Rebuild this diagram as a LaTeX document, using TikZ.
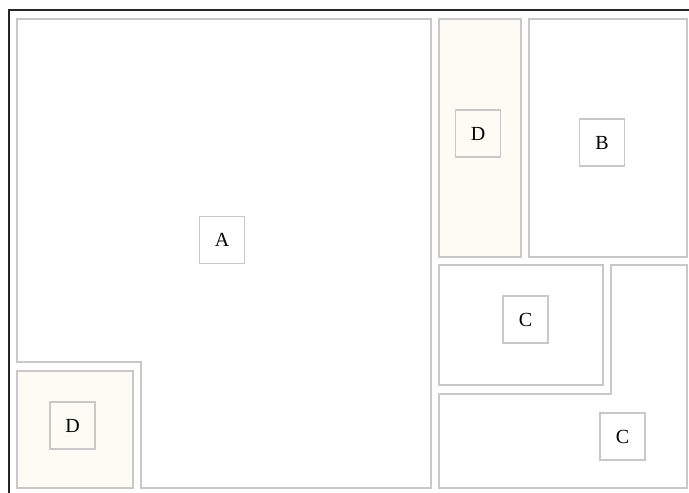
\documentclass[tikz,border=0pt]{standalone}
\usepackage{fontspec}
\setmainfont{Liberation Serif}
\definecolor{edgegray}{RGB}{200,200,200}
\definecolor{cream}{RGB}{252,252,245}
\begin{document}
\begin{tikzpicture}[x=1pt,y=-1pt,
  region/.style={draw=edgegray,line width=1.3pt},
  creamregion/.style={region,fill=cream},
  labelbox/.style={draw=edgegray,line width=1.3pt,minimum width=45pt,minimum height=47pt,inner sep=0pt,font=\fontsize{20}{24}\selectfont},
  frame/.style={draw=black!85,line width=2pt}]
\useasboundingbox (0,0) rectangle (689,493);
% outer frame
\draw[frame] (9,493) -- (9,10) -- (689,10);
% A (L-shaped)
\draw[region] (17,19) -- (431,19) -- (431,488) -- (141,488) -- (141,362) -- (17,362) -- cycle;
% D bottom-left
\draw[creamregion] (17,371) rectangle (133,488);
% D top
\draw[creamregion] (439,19) rectangle (521,257);
% B
\draw[region] (529,19) rectangle (687,257);
% C upper
\draw[region] (439,265) rectangle (603,385);
% C lower (L-shaped)
\draw[region] (611,265) -- (687,265) -- (687,488) -- (439,488) -- (439,394) -- (611,394) -- cycle;
% labels
\node[labelbox] (la) at (222,240) {A};
\node[labelbox,fill=cream] (ld1) at (72.5,425.5) {D};
\node[labelbox,fill=cream] (ld2) at (478,133.5) {D};
\node[labelbox] (lb) at (602,142.5) {B};
\node[labelbox] (lc1) at (525.5,319.5) {C};
\node[labelbox] (lc2) at (622.5,436.5) {C};
\end{tikzpicture}
\end{document}
